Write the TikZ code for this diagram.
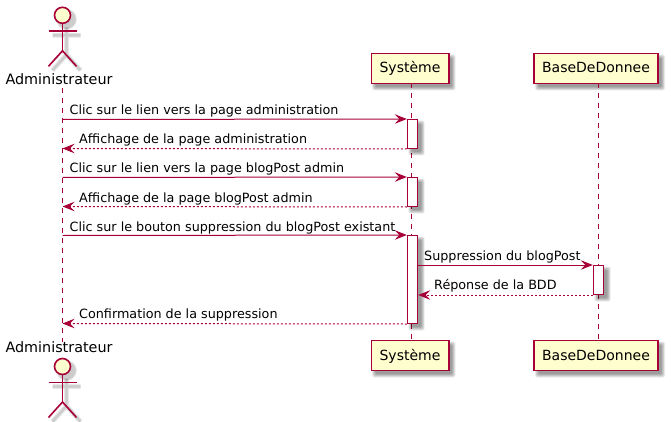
\documentclass[tikz,border=0pt]{standalone}
\usepackage{fontspec}
\setmainfont{DejaVu Sans}
\usetikzlibrary{arrows.meta}
\definecolor{pumlred}{HTML}{A80036}
\definecolor{pumlfill}{HTML}{FEFECE}
\tikzset{
  x=1pt,y=-1pt,
  head/.style={draw=pumlred,fill=pumlfill,line width=1.5pt,minimum width=#1,minimum height=30pt,inner sep=0pt,text=black,font=\fontsize{14}{16}\selectfont,text depth=0pt},
  actorlabel/.style={inner sep=0pt,anchor=base,text=black,font=\fontsize{14}{16}\selectfont},
  actorname/.style={actorlabel,font=\fontsize{14.35}{16}\selectfont,fill=white,text depth=3pt},
  activation/.style={draw=pumlred,fill=white,line width=1pt,minimum width=10.4pt,inner sep=0pt},
  lifeline/.style={draw=pumlred,line width=1pt,dash pattern=on 5pt off 5pt},
  tip/.style={-{Stealth[length=12pt,width=9.5pt,inset=4.5pt,color=pumlred]}},
  msgcall/.style={draw=pumlred,line width=1pt,tip},
  msgback/.style={draw=pumlred,line width=1pt,dash pattern=on 2pt off 2pt,tip},
  msglabel/.style={inner sep=0pt,anchor=base west,text=black,font=\fontsize{12.75}{15}\selectfont},
  actorline/.style={draw=pumlred,line width=1.6pt},
}
% soft shadow of a rectangle
\newcommand{\softrect}[4]{%
  \foreach \g in {3,2.4,1.8,1.2,0.6,0,-0.6}{%
    \fill[black,opacity=0.065,rounded corners=2pt] (#1+4-\g,#2+4-\g) rectangle (#3+4+\g,#4+4+\g);}}
% stick figure with its soft shadow; #1 = name, #2 = x, #3 = head centre
\newcommand{\stickman}[3]{%
  \foreach \w in {5,3.6,2.2}{%
    \begin{scope}[shift={(#2+4,#3+4)},black,opacity=0.07,line width=\w pt]
      \fill (0,0) circle[radius=8+\w/2];
      \draw (-14,16) -- (14,16) (0,8) -- (0,35.5) (-14,51) -- (0,35.5) -- (14,51);
    \end{scope}}%
  \node[draw=pumlred,fill=pumlfill,circle,line width=1.6pt,minimum size=16pt,inner sep=0pt] (#1) at (#2,#3) {};
  \coordinate (#1L) at (#2-14,#3+16);
  \coordinate (#1R) at (#2+14,#3+16);
  \coordinate (#1H) at (#2,#3+35.5);
  \coordinate (#1FL) at (#2-14,#3+51);
  \coordinate (#1FR) at (#2+14,#3+51);
  \draw[actorline] (#1.south) -- (#1H);
  \draw[actorline] (#1L) -- (#1R);
  \draw[actorline] (#1FL) -- (#1H) -- (#1FR);
}
\begin{document}
\begin{tikzpicture}
\useasboundingbox (0,0) rectangle (671,422);
% lifeline ends
\coordinate (adminTop) at (62.5,88);
\coordinate (adminBot) at (62.5,342);
% shadows of boxes
\softrect{371}{53.5}{448.5}{83.5}
\softrect{534}{53.5}{658}{83.5}
\softrect{371}{340.5}{448.5}{370.5}
\softrect{534}{340.5}{658}{370.5}
% participants
\node[head=77.5pt] (sysT) at (410,68.5) {};
\node[head=124pt] (baseT) at (596,68.5) {};
\node[head=77.5pt] (sysB) at (410,355.5) {};
\node[head=124pt] (baseB) at (596,355.5) {};
\node[actorlabel] at (410,73) {Système};
\node[actorlabel] at (596,73) {BaseDeDonnee};
\node[actorlabel] at (410,360) {Système};
\node[actorlabel] at (596,360) {BaseDeDonnee};
% lifelines
\coordinate (sysTop) at (411.5,83.5);
\coordinate (sysBot) at (411.5,340.5);
\coordinate (baseTop) at (598.5,83.5);
\coordinate (baseBot) at (598.5,340.5);
\draw[lifeline] (adminTop) -- (adminBot);
\draw[lifeline] (sysTop) -- (sysBot);
\draw[lifeline] (baseTop) -- (baseBot);
% actors
\stickman{actT}{62.5}{15.3}
\stickman{actB}{62.5}{366.5}
\node[actorname] (adminT) at (59,85) {Administrateur};
\node[actorname] (adminB) at (59,352.5) {Administrateur};
% activations
\softrect{407.3}{119.5}{417.7}{148.5}
\softrect{407.3}{177.5}{417.7}{206.5}
\softrect{407.3}{235.5}{417.7}{323.5}
\softrect{593.3}{265.5}{603.7}{294.5}
\node[activation,minimum height=29pt] (a1) at (412.5,134) {};
\node[activation,minimum height=29pt] (a2) at (412.5,192) {};
\node[activation,minimum height=88pt] (a3) at (412.5,279.5) {};
\node[activation,minimum height=29pt] (a4) at (598.5,280) {};
% anchors of the messages on the admin lifeline
\coordinate (m1) at (62.5,119.5);
\coordinate (m2) at (62.5,148.5);
\coordinate (m3) at (62.5,177.5);
\coordinate (m4) at (62.5,206.5);
\coordinate (m5) at (62.5,235.5);
\coordinate (m8) at (62.5,323.5);
% messages
\draw[msgcall] (m1) -- (a1.north west);
\draw[msgback] (a1.south west) -- (m2);
\draw[msgcall] (m3) -- (a2.north west);
\draw[msgback] (a2.south west) -- (m4);
\draw[msgcall] (m5) -- (a3.north west);
\draw[msgcall] (a4.north west -| a3.east) -- (a4.north west);
\draw[msgback] (a4.south west) -- (a4.south west -| a3.east);
\draw[msgback] (a3.south west) -- (m8);
% labels
\node[msglabel] at (69.5,114.5) {Clic sur le lien vers la page administration};
\node[msglabel] at (79,143.5) {Affichage de la page administration};
\node[msglabel] at (69.5,172.5) {Clic sur le lien vers la page blogPost admin};
\node[msglabel] at (79,202.5) {Affichage de la page blogPost admin};
\node[msglabel] at (69.5,231) {Clic sur le bouton suppression du blogPost existant};
\node[msglabel] at (424,260) {Suppression du blogPost};
\node[msglabel] at (434,289) {Réponse de la BDD};
\node[msglabel] at (79,318.5) {Confirmation de la suppression};
\end{tikzpicture}
\end{document}
